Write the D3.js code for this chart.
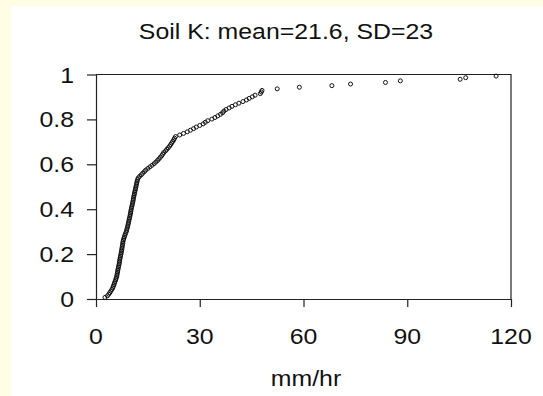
<!DOCTYPE html>
<html>
<head>
<meta charset="utf-8">
<script src="https://cdn.jsdelivr.net/npm/d3@7"></script>
<style>
  body { margin: 0; background: #fffde3; }
  svg { display: block; }
  text { font-family: "Liberation Sans", Arial, sans-serif; fill: #111; }
</style>
</head>
<body>
<div id="chart"></div>
<script>
// soil K values (mm/hr), sorted
const soilK = [
  2.6, 3.3, 3.7, 4.0, 4.3, 4.6, 4.85, 5.0, 5.2, 5.35,
  5.5, 5.7, 5.8, 6.0, 6.05, 6.15, 6.25, 6.3, 6.4, 6.5,
  6.6, 6.7, 6.75, 6.85, 6.9, 7.0, 7.1, 7.2, 7.3, 7.35,
  7.45, 7.5, 7.6, 7.65, 7.75, 7.8, 7.9, 8.05, 8.2, 8.35,
  8.5, 8.7, 8.85, 8.95, 9.1, 9.2, 9.3, 9.4, 9.5, 9.6,
  9.7, 9.8, 9.9, 10.0, 10.05, 10.15, 10.25, 10.35, 10.45, 10.55,
  10.65, 10.75, 10.8, 10.9, 11.0, 11.1, 11.2, 11.3, 11.4, 11.5,
  11.6, 11.7, 11.8, 11.9, 12.0, 12.2, 12.6, 13.1, 13.5, 14.0,
  14.4, 15.0, 15.6, 16.2, 16.8, 17.3, 17.8, 18.2, 18.6, 19.0,
  19.3, 19.6, 20.1, 20.5, 20.9, 21.3, 21.6, 21.9, 22.2, 22.5,
  22.7, 23.0, 24.2, 25.3, 26.4, 27.3, 28.2, 29.0, 30.0, 31.0,
  31.6, 32.3, 33.5, 34.4, 35.2, 36.0, 36.6, 37.0, 37.6, 38.5,
  39.3, 40.3, 41.3, 42.5, 43.5, 44.3, 45.2, 46.0, 47.5, 47.8,
  48.0, 52.4, 58.8, 68.2, 73.6, 83.7, 88.0, 105.3, 106.9, 115.7
];
const xTicks = [0, 30, 60, 90, 120];
const yTicks = [0, 0.2, 0.4, 0.6, 0.8, 1];
const title = 'Soil K: mean=21.6, SD=23';
const xLabel = 'mm/hr';

const width = 543, height = 396;
const stretch = 1.13;   // source text is a bit wider than Arial
const fontSize = 22;

const svg = d3.select('#chart').append('svg')
    .attr('width', width)
    .attr('height', height);

// yellow page with white panel
svg.append('rect').attr('width', width).attr('height', height).attr('fill', '#fffde3');
svg.append('rect').attr('x', 11).attr('y', 6)
    .attr('width', width - 11).attr('height', height - 6).attr('fill', '#fff');

const x = d3.scaleLinear().domain([0, 120]).range([96, 511]);
const y = d3.scaleLinear().domain([0, 1]).range([299, 74.5]);

// plotting position i/(n+1)
const n = soilK.length;
const points = soilK.map((v, i) => ({x: v, p: (i + 1) / (n + 1)}));

// frame (top and right)
svg.append('path')
    .attr('d', `M${x(0)},${y(1)}H${x(120)}V${y(0)}`)
    .attr('fill', 'none')
    .attr('stroke', '#222')
    .attr('stroke-width', 1.2);

const xAxis = svg.append('g')
    .attr('transform', `translate(0,${y(0)})`)
    .call(d3.axisBottom(x).tickValues(xTicks).tickSize(8).tickSizeOuter(0).tickFormat(''));

const yAxis = svg.append('g')
    .attr('transform', `translate(${x(0)},0)`)
    .call(d3.axisLeft(y).tickValues(yTicks).tickSize(9).tickSizeOuter(0).tickFormat(''));

svg.selectAll('.domain, .tick line')
    .attr('stroke', '#222')
    .attr('stroke-width', 1.2);

// tick labels
svg.append('g').selectAll('text')
    .data(xTicks).enter()
    .append('text')
    .attr('transform', (d) => `translate(${x(d)},344) scale(${stretch},1)`)
    .attr('text-anchor', 'middle')
    .attr('font-size', fontSize)
    .text((d) => d);

svg.append('g').selectAll('text')
    .data(yTicks).enter()
    .append('text')
    .attr('transform', (d) => `translate(74,${y(d) + 8}) scale(${stretch},1)`)
    .attr('text-anchor', 'end')
    .attr('font-size', fontSize)
    .text((d) => d);

svg.append('text')
    .attr('transform', `translate(286,39) scale(${stretch},1)`)
    .attr('text-anchor', 'middle')
    .attr('font-size', fontSize)
    .text(title);

svg.append('text')
    .attr('transform', `translate(306,386) scale(${stretch},1)`)
    .attr('text-anchor', 'middle')
    .attr('font-size', fontSize)
    .text(xLabel);

// points
svg.append('g').selectAll('circle')
    .data(points).enter()
    .append('circle')
    .attr('cx', (d) => x(d.x))
    .attr('cy', (d) => y(d.p))
    .attr('r', 2)
    .attr('fill', 'none')
    .attr('stroke', '#111')
    .attr('stroke-width', 1);
</script>
</body>
</html>
